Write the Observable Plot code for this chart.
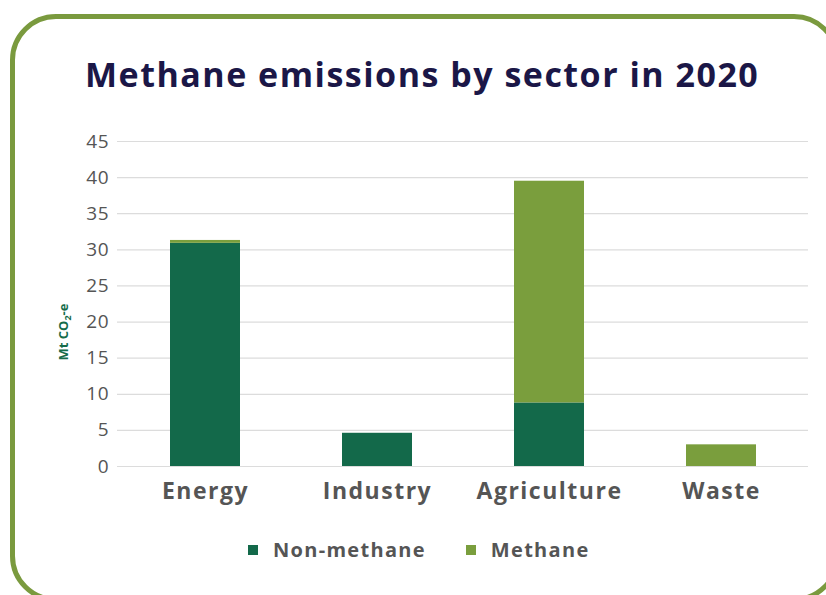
<!DOCTYPE html>
<html>
<head>
<meta charset="utf-8">
<script src="https://cdn.jsdelivr.net/npm/d3@7"></script>
<script src="https://cdn.jsdelivr.net/npm/@observablehq/plot@0.6"></script>
<style>
  html, body { margin: 0; padding: 0; background: #fff; overflow: hidden; }
  #wrap { position: relative; width: 826px; height: 595px; overflow: hidden; background: #fff; }
  #frame { position: absolute; left: 10px; top: 14px; width: 830px; height: 588px;
           border: 5px solid #7a9a3e; border-radius: 46px; box-sizing: border-box; }
  #title { position: absolute; left: 85px; top: 51px; font-family: "Open Sans", sans-serif; font-weight: 700;
           font-size: 34px; color: #1b1747; letter-spacing: 1.5px; white-space: nowrap; }
  #chart { position: absolute; left: 0; top: 120px; }
  #chart svg g[aria-label="y-axis tick label"] text { letter-spacing: 0.8px; }
  #chart svg g[aria-label="x-axis tick label"] text { letter-spacing: 1.5px; }
  #ylabel { position: absolute; left: 64px; top: 332px; transform: translate(-50%, -50%) rotate(-90deg);
            font-family: "Open Sans", sans-serif; font-weight: 700; font-size: 13px; color: #156b4a; white-space: nowrap; }
  #legend { position: absolute; top: 536px; left: 248px; display: flex; align-items: center;
            font-family: "Open Sans", sans-serif; font-weight: 700; font-size: 20px; color: #555; letter-spacing: 1.3px; }
  .sw { display: inline-block; width: 10px; height: 10px; margin-right: 15px; }
  .item { display: flex; align-items: center; margin-right: 40px; }
</style>
</head>
<body>
<div id="wrap">
  <div id="frame"></div>
  <div id="title">Methane emissions by sector in 2020</div>
  <div id="chart"></div>
  <div id="ylabel">Mt CO<sub style="font-size:9px">2</sub>-e</div>
  <div id="legend"></div>
</div>
<script>
const sectors = ["Energy", "Industry", "Agriculture", "Waste"];
const series = ["Non-methane", "Methane"];
const nonMethane = [30.9, 4.6, 8.8, 0];
const methane = [0.4, 0, 30.7, 3.0];
const yTicks = [0, 5, 10, 15, 20, 25, 30, 35, 40, 45];
const colors = ["#13694a", "#7a9e3d"];

const rows = [];
sectors.forEach((s, i) => {
  rows.push({sector: s, series: series[0], value: nonMethane[i]});
  rows.push({sector: s, series: series[1], value: methane[i]});
});

const chart = Plot.plot({
  width: 826,
  height: 400,
  marginLeft: 117,
  marginRight: 18,
  marginTop: 21,
  marginBottom: 54,
  style: {fontFamily: "'Open Sans', sans-serif", background: "transparent"},
  x: {domain: sectors, paddingInner: 0.595, paddingOuter: 0.2975, label: null, tickSize: 0, tickPadding: 16},
  y: {domain: [0, 45], ticks: yTicks, label: null, tickSize: 0, tickPadding: 8},
  color: {domain: series, range: colors},
  marks: [
    Plot.gridY(yTicks, {stroke: "#dcdcdc", strokeOpacity: 1, strokeWidth: 1.2}),
    Plot.barY(rows, {x: "sector", y: "value", fill: "series", order: series}),
    Plot.axisY({ticks: yTicks, tickSize: 0, tickPadding: 8, fontSize: 19, fill: "#555", label: null}),
    Plot.axisX({tickSize: 0, tickPadding: 16, fontSize: 23, fontWeight: 700, fill: "#555", label: null})
  ]
});
document.getElementById("chart").appendChild(chart);

const legend = document.getElementById("legend");
series.forEach((s, i) => {
  const item = document.createElement("span");
  item.className = "item";
  const sw = document.createElement("span");
  sw.className = "sw";
  sw.style.background = colors[i];
  item.appendChild(sw);
  item.appendChild(document.createTextNode(s));
  legend.appendChild(item);
});
</script>
</body>
</html>
